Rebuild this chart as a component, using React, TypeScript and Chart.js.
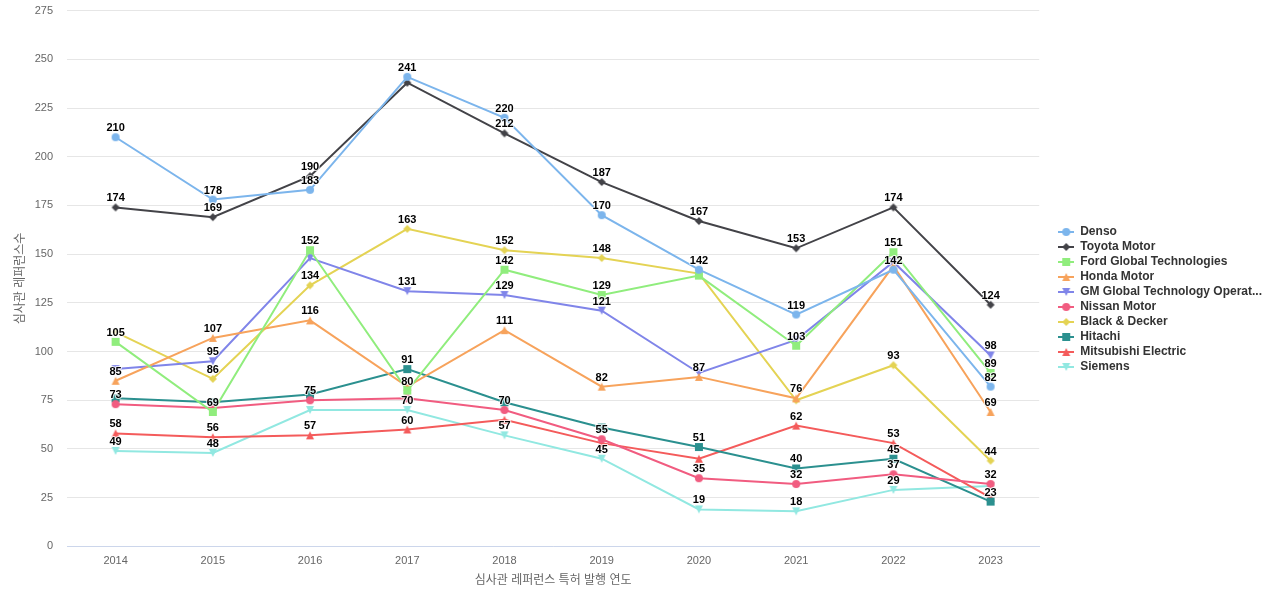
import React, { useEffect, useRef } from "react";
import { Chart, registerables } from "chart.js";

Chart.register(...registerables);

const years = ["2014", "2015", "2016", "2017", "2018", "2019", "2020", "2021", "2022", "2023"];

const denso = [210, 178, 183, 241, 220, 170, 142, 119, 142, 82];
const toyota = [174, 169, 190, 238, 212, 187, 167, 153, 174, 124];
const ford = [105, 69, 152, 80, 142, 129, 139, 103, 151, 89];
const honda = [85, 107, 116, 82, 111, 82, 87, 76, 144, 69];
const gm = [91, 95, 148, 131, 129, 121, 89, 106, 146, 98];
const nissan = [73, 71, 75, 76, 70, 55, 35, 32, 37, 32];
const blackDecker = [110, 86, 134, 163, 152, 148, 140, 75, 93, 44];
const hitachi = [76, 74, 78, 91, 74, 61, 51, 40, 45, 23];
const mitsubishi = [58, 56, 57, 60, 65, 53, 45, 62, 53, 25];
const siemens = [49, 48, 70, 70, 57, 45, 19, 18, 29, 31];

const seriesNames = [
  "Denso",
  "Toyota Motor",
  "Ford Global Technologies",
  "Honda Motor",
  "GM Global Technology Operat...",
  "Nissan Motor",
  "Black & Decker",
  "Hitachi",
  "Mitsubishi Electric",
  "Siemens",
];
const seriesValues = [denso, toyota, ford, honda, gm, nissan, blackDecker, hitachi, mitsubishi, siemens];
const seriesColors = ["#7cb5ec", "#434348", "#90ed7d", "#f7a35c", "#8085e9", "#f15c80", "#e4d354", "#2b908f", "#f45b5b", "#91e8e1"];
const seriesMarkers = ["circle", "diamond", "square", "triangle", "triangle-down", "circle", "diamond", "square", "triangle", "triangle-down"];

const yTitle = "심사관 레퍼런스수";
const xTitle = "심사관 레퍼런스 특허 발행 연도";

const FONT = "'Liberation Sans', Arial, 'Noto Sans CJK KR', sans-serif";

function drawMarker(ctx: CanvasRenderingContext2D, kind: string, x: number, y: number, r: number) {
  ctx.beginPath();
  if (kind === "circle") {
    ctx.arc(x, y, r, 0, Math.PI * 2);
  } else if (kind === "diamond") {
    ctx.moveTo(x, y - r);
    ctx.lineTo(x + r, y);
    ctx.lineTo(x, y + r);
    ctx.lineTo(x - r, y);
    ctx.closePath();
  } else if (kind === "square") {
    ctx.rect(x - r, y - r, 2 * r, 2 * r);
  } else if (kind === "triangle") {
    ctx.moveTo(x, y - r);
    ctx.lineTo(x + r, y + r);
    ctx.lineTo(x - r, y + r);
    ctx.closePath();
  } else {
    ctx.moveTo(x - r, y - r);
    ctx.lineTo(x + r, y - r);
    ctx.lineTo(x, y + r);
    ctx.closePath();
  }
  ctx.fill();
}

function markerCanvas(kind: string, color: string, withLine: boolean) {
  const c = document.createElement("canvas");
  const w = withLine ? 16 : 10;
  c.width = w;
  c.height = 10;
  const ctx = c.getContext("2d")!;
  ctx.fillStyle = color;
  ctx.strokeStyle = color;
  if (withLine) {
    ctx.lineWidth = 2;
    ctx.beginPath();
    ctx.moveTo(0, 5);
    ctx.lineTo(16, 5);
    ctx.stroke();
  }
  drawMarker(ctx, kind, w / 2, 5, 4);
  return c;
}

const labelPlugin = {
  id: "valueLabels",
  afterDatasetsDraw(chart: any) {
    const ctx = chart.ctx as CanvasRenderingContext2D;
    ctx.save();
    ctx.font = `bold 11px ${FONT}`;
    ctx.textAlign = "center";
    ctx.textBaseline = "middle";
    const boxes: { x1: number; x2: number; y1: number; y2: number }[] = [];
    const n = years.length;
    for (let i = 0; i < n; i++) {
      chart.data.datasets.forEach((ds: any, di: number) => {
        const meta = chart.getDatasetMeta(di);
        const pt = meta.data[i];
        if (!pt) return;
        const txt = String(ds.data[i]);
        const w = ctx.measureText(txt).width;
        const cx = pt.x;
        const cy = pt.y - 9;
        const b = { x1: cx - w / 2 - 1, x2: cx + w / 2 + 1, y1: cy - 6, y2: cy + 6 };
        for (const o of boxes) {
          if (b.x1 < o.x2 && b.x2 > o.x1 && b.y1 < o.y2 && b.y2 > o.y1) return;
        }
        boxes.push(b);
        ctx.lineWidth = 2;
        ctx.lineJoin = "round";
        ctx.strokeStyle = "rgba(255,255,255,0.8)";
        ctx.strokeText(txt, cx, cy);
        ctx.fillStyle = "#000000";
        ctx.fillText(txt, cx, cy);
      });
    }
    ctx.restore();
  },
};

const legendShift = {
  id: "legendShift",
  afterLayout(chart: any) {
    if (chart.legend) {
      chart.legend.left += 16;
      chart.legend.right += 16;
      chart.legend.top += 3;
      chart.legend.bottom += 3;
    }
  },
};

export default function App() {
  const ref = useRef<HTMLCanvasElement | null>(null);

  useEffect(() => {
    if (!ref.current) return;
    const pointImgs = seriesMarkers.map((m, i) => markerCanvas(m, seriesColors[i], false));
    const legendImgs = seriesMarkers.map((m, i) => markerCanvas(m, seriesColors[i], true));

    const chart = new Chart(ref.current, {
      type: "line",
      data: {
        labels: years,
        datasets: seriesNames.map((name, i) => ({
          label: name,
          data: seriesValues[i],
          borderColor: seriesColors[i],
          backgroundColor: seriesColors[i],
          borderWidth: 2,
          pointStyle: pointImgs[i] as any,
          pointRadius: 4,
          pointHoverRadius: 4,
          tension: 0,
          fill: false,
        })),
      },
      options: {
        animation: false,
        responsive: false,
        maintainAspectRatio: false,
        layout: { padding: { top: 5, right: 24, bottom: 12, left: 13 } },
        plugins: {
          tooltip: { enabled: false },
          legend: {
            position: "right",
            align: "center",
            labels: {
              usePointStyle: true,
              pointStyleWidth: 16,
              boxHeight: 10,
              padding: 3,
              color: "#333333",
              font: { family: FONT, size: 12, weight: "bold" },
              generateLabels: (ch: any) =>
                ch.data.datasets.map((ds: any, i: number) => ({
                  text: ds.label,
                  fillStyle: seriesColors[i],
                  strokeStyle: seriesColors[i],
                  lineWidth: 0,
                  pointStyle: legendImgs[i],
                  hidden: false,
                  datasetIndex: i,
                  fontColor: "#333333",
                })),
            },
          },
        },
        scales: {
          x: {
            type: "category",
            offset: true,
            grid: { display: false, drawTicks: false },
            border: { color: "#ccd6eb", width: 1 },
            ticks: { color: "#666666", font: { family: FONT, size: 11 }, padding: 8 },
            title: { display: true, text: xTitle, color: "#666666", font: { family: FONT, size: 12 }, padding: { top: -2, bottom: 0 } },
          },
          y: {
            min: 0,
            max: 275,
            ticks: { stepSize: 25, color: "#666666", font: { family: FONT, size: 11 }, padding: 4 },
            grid: { color: "#e6e6e6", drawTicks: true, tickLength: 10, tickColor: "rgba(0,0,0,0)" },
            border: { display: false },
            title: { display: true, text: yTitle, color: "#666666", font: { family: FONT, size: 12 }, padding: { top: 0, bottom: 4 } },
            afterFit: (s: any) => {
              s.width = 54;
            },
          },
        },
      },
      plugins: [labelPlugin, legendShift],
    });
    return () => chart.destroy();
  }, []);

  return (
    <div style={{ position: "fixed", left: 0, top: 0, width: 1280, height: 600, background: "#ffffff" }}>
      <canvas ref={ref} width={1280} height={600} style={{ width: 1280, height: 600 }} />
    </div>
  );
}
